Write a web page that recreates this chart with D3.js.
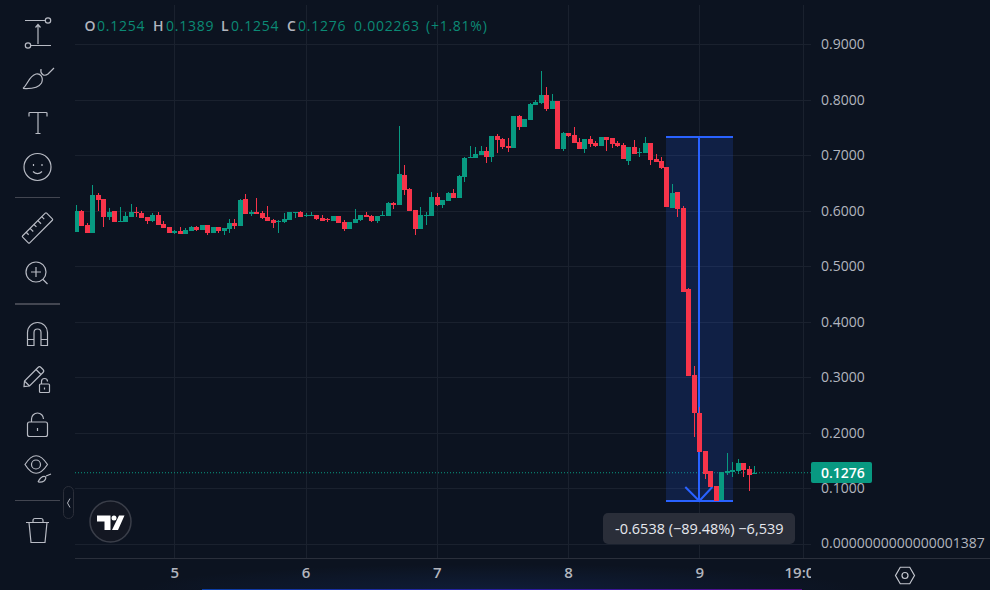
<!DOCTYPE html>
<html>
<head>
<meta charset="utf-8">
<script src="https://cdn.jsdelivr.net/npm/d3@7"></script>
<style>
  html, body { margin: 0; padding: 0; background: #0c1320; overflow: hidden; }
  svg { display: block; }
  text { font-family: "Open Sans", sans-serif; }
  .tool path, .tool circle, .tool line, .tool rect { fill: none; stroke: #b8bbc4; stroke-width: 1.2; }
</style>
</head>
<body>
<svg id="chart" width="990" height="590"></svg>
<script>
// hourly candles
var opens = [.5618,.5996,.5744,.5600,.6285,.6213,.5888,.5996,.5798,.5798,.5888,.5978,.5960,.5888,.5816,.5924,.5762,.5708,.5600,.5636,.5582,.5636,.5708,.5654,.5744,
  .5600,.5708,.5636,.5672,.5780,.5726,.6213,.5942,.5978,.5960,.5888,.5834,.5798,.5798,.5834,.5960,.5978,.5906,.5906,.5924,.5870,.5852,.5816,.5906,.5798,
  .5672,.5780,.5834,.5924,.5906,.5816,.5906,.5906,.6141,.6105,.6646,.6393,.6014,.5672,.5906,.5906,.6249,.6105,.6177,.6321,.6231,.6610,.6952,.6952,.7006,
  .7078,.6970,.7349,.7295,.7169,.7133,.7710,.7512,.7638,.7908,.7944,.8089,.7836,.7980,.7115,.7403,.7367,.7241,.7115,.7295,.7223,.7169,.7331,.7313,.7223,
  .7187,.6898,.7151,.7042,.7042,.7223,.6934,.6898,.6790,.6051,.6339,.6051,.4590,.3039,.2353,.1668,.1307,.1037,.0784,.1271,.1289,.1307,.1452,.1344,.1254];
var highs = [.6105,.6014,.5780,.6465,.6321,.6213,.6051,.5996,.6069,.5978,.6123,.6069,.5996,.5888,.5960,.5978,.5816,.5708,.5654,.5708,.5690,.5726,.5726,.5744,.5744,
  .5708,.5708,.5690,.5852,.5852,.6213,.6303,.6014,.6231,.5996,.6087,.5852,.5834,.5960,.5978,.5978,.5996,.5960,.5978,.5924,.5924,.5870,.5906,.5906,.5834,
  .5798,.6033,.5924,.5978,.5924,.5906,.5996,.6159,.6159,.7529,.6826,.6411,.6014,.6069,.5978,.6339,.6321,.6195,.6339,.6393,.6646,.6970,.7169,.7151,.7169,
  .7151,.7349,.7385,.7313,.7313,.7710,.7728,.7656,.7944,.7998,.8521,.8233,.8107,.7980,.7421,.7403,.7512,.7313,.7295,.7349,.7259,.7331,.7331,.7313,.7259,
  .7223,.7151,.7277,.7133,.7331,.7223,.7024,.6970,.6790,.6483,.6339,.6087,.4608,.3201,.2462,.1668,.1307,.1037,.1289,.1632,.1470,.1524,.1452,.1398,.1389];
var lows = [.5618,.5726,.5600,.5600,.5996,.5708,.5834,.5798,.5798,.5798,.5888,.5888,.5870,.5762,.5798,.5744,.5690,.5600,.5582,.5582,.5582,.5636,.5636,.5654,.5564,
  .5600,.5600,.5564,.5600,.5672,.5726,.5942,.5906,.5942,.5852,.5816,.5690,.5600,.5780,.5834,.5870,.5888,.5888,.5906,.5834,.5816,.5798,.5816,.5780,.5636,
  .5672,.5780,.5816,.5888,.5798,.5780,.5906,.5906,.6033,.6105,.6285,.5996,.5564,.5672,.5744,.5906,.6087,.6051,.6177,.6231,.6231,.6520,.6952,.6952,.7006,
  .6862,.6880,.7042,.7115,.7060,.7133,.7457,.7512,.7638,.7908,.7926,.7800,.7836,.7115,.7078,.7331,.7223,.7115,.7042,.7151,.7151,.7169,.7078,.7133,.7151,
  .6934,.6826,.7024,.6970,.7042,.6826,.6880,.6754,.6069,.6051,.5888,.4536,.3021,.1921,.1650,.1163,.1019,.0766,.0784,.1235,.1199,.1253,.1199,.0947,.1254];
var closes = [.5996,.5726,.5600,.6285,.6195,.5888,.5978,.5798,.5816,.5906,.5978,.5960,.5870,.5816,.5924,.5744,.5690,.5600,.5636,.5582,.5654,.5708,.5654,.5744,.5600,
  .5708,.5636,.5690,.5780,.5726,.6195,.5942,.5978,.5942,.5870,.5816,.5780,.5816,.5852,.5978,.5978,.5888,.5924,.5924,.5852,.5816,.5834,.5906,.5780,.5672,
  .5798,.5852,.5924,.5888,.5816,.5906,.5924,.6141,.6105,.6664,.6375,.5996,.5672,.5924,.5924,.6249,.6105,.6195,.6321,.6231,.6628,.6952,.6970,.7024,.7078,
  .6970,.7349,.7277,.7151,.7133,.7710,.7512,.7656,.7926,.7962,.8089,.7836,.7980,.7115,.7403,.7349,.7223,.7115,.7295,.7205,.7169,.7331,.7277,.7205,.7169,
  .6934,.7151,.7024,.7060,.7223,.6916,.6880,.6772,.6069,.6321,.6033,.4536,.3021,.2353,.1650,.1253,.1019,.0766,.1289,.1307,.1326,.1452,.1326,.1235,.1276];

var priceTicks = [0.9, 0.8, 0.7, 0.6, 0.5, 0.4, 0.3, 0.2, 0.1, 0];
var priceLabels = ['0.9000', '0.8000', '0.7000', '0.6000', '0.5000', '0.4000', '0.3000', '0.2000', '0.1000', '0.0000000000000001387'];
var timeTicks = [18, 42, 66, 90, 114, 133];   // candle index of each label
var timeLabels = ['5', '6', '7', '8', '9', '19:00'];

var lastPrice = 0.1276;
var measureTop = 0.7331, measureBottom = 0.0766;
var measureStart = 107.9, measureMid = 114, measureEnd = 120.1;
var measureText = '-0.6538 (\u221289.48%) \u22126,539';
var legendItems = [['O', '0.1254'], ['H', '0.1389'], ['L', '0.1254'], ['C', '0.1276']];
var legendChange = '0.002263', legendPct = '(+1.81%)';

var green = '#089981', red = '#f7344a', grid = '#1a212e', blue = '#2962ff';

var svg = d3.select('#chart');

// price 0 sits at y=543.5, 0.9 at y=44.4
var y = d3.scaleLinear().domain([0, 0.9]).range([543.5, 44.4]);
var x = d3.scaleLinear().domain([18, 114]).range([174.3, 699.3]);

var defs = svg.append('defs');
defs.append('clipPath').attr('id', 'pane').append('rect')
  .attr('x', 75).attr('y', 0).attr('width', 736).attr('height', 558);
defs.append('clipPath').attr('id', 'timeClip').append('rect')
  .attr('x', 75).attr('y', 558).attr('width', 736).attr('height', 32);
var lg = defs.append('linearGradient').attr('id', 'edge');
lg.append('stop').attr('offset', 0).attr('stop-color', '#0a3fa8');
lg.append('stop').attr('offset', 0.55).attr('stop-color', '#2a1a9c');
lg.append('stop').attr('offset', 1).attr('stop-color', '#5f0c8c');
var glow = defs.append('radialGradient').attr('id', 'glow');
glow.append('stop').attr('offset', 0).attr('stop-color', '#12254a').attr('stop-opacity', 0.55);
glow.append('stop').attr('offset', 1).attr('stop-color', '#12254a').attr('stop-opacity', 0);

// glow + coloured strip along the bottom edge
svg.append('ellipse').attr('cx', 500).attr('cy', 590).attr('rx', 360).attr('ry', 26).attr('fill', 'url(#glow)');
svg.append('rect').attr('x', 202).attr('y', 589).attr('width', 600).attr('height', 1).attr('fill', 'url(#edge)');

// grid, built from the axes
svg.append('g').attr('transform', 'translate(75,0)')
  .call(d3.axisRight(y).tickValues(priceTicks).tickSize(736).tickFormat(''))
  .call(function(g) {
    g.select('.domain').remove();
    g.selectAll('line').attr('stroke', grid).attr('shape-rendering', 'crispEdges');
  });
svg.append('g').attr('transform', 'translate(0,558)')
  .call(d3.axisTop(x).tickValues(timeTicks).tickSize(553).tickFormat(''))
  .call(function(g) {
    g.select('.domain').remove();
    g.selectAll('line').attr('stroke', grid).attr('shape-rendering', 'crispEdges');
  });

// time axis line and labels, the last label is cut off at the price scale
svg.append('line').attr('x1', 75).attr('x2', 990).attr('y1', 558.5).attr('y2', 558.5).attr('stroke', '#2a2f3b');
svg.append('g').attr('clip-path', 'url(#timeClip)')
  .append('g').attr('transform', 'translate(0,558)')
  .call(d3.axisBottom(x).tickValues(timeTicks).tickSize(0).tickPadding(9)
    .tickFormat(function(d, i) { return timeLabels[i]; }))
  .call(function(g) {
    g.select('.domain').remove();
    g.selectAll('text').attr('fill', '#b2b5be').attr('font-size', 15).attr('font-weight', 600)
      .style('font-family', '"Open Sans", sans-serif');
  });

// last price line
svg.append('line').attr('x1', 75).attr('x2', 811).attr('y1', y(lastPrice)).attr('y2', y(lastPrice))
  .attr('stroke', green).attr('stroke-dasharray', '1 2');

// measure tool sits under the candles
var measure = svg.append('g').attr('clip-path', 'url(#pane)').attr('shape-rendering', 'crispEdges');
measure.append('rect')
  .attr('x', x(measureStart)).attr('y', y(measureTop))
  .attr('width', x(measureEnd) - x(measureStart)).attr('height', y(measureBottom) - y(measureTop))
  .attr('fill', blue).attr('fill-opacity', 0.17);
[measureTop, measureBottom].forEach(function(p) {
  measure.append('line').attr('x1', x(measureStart)).attr('x2', x(measureEnd))
    .attr('y1', Math.round(y(p))).attr('y2', Math.round(y(p))).attr('stroke', blue).attr('stroke-width', 2);
});
measure.append('line').attr('x1', Math.round(x(measureMid))).attr('x2', Math.round(x(measureMid)))
  .attr('y1', y(measureTop)).attr('y2', y(measureBottom)).attr('stroke', blue).attr('stroke-width', 2);
measure.append('path')
  .attr('shape-rendering', 'auto')
  .attr('d', 'M' + (x(measureMid) - 14) + ',' + (y(measureBottom) - 14) + 'L' + x(measureMid) + ',' + y(measureBottom) +
    'L' + (x(measureMid) + 13) + ',' + (y(measureBottom) - 14))
  .attr('fill', 'none').attr('stroke', blue).attr('stroke-width', 2);

// candles
var candles = svg.append('g').attr('clip-path', 'url(#pane)')
  .selectAll('g').data(d3.range(opens.length)).enter().append('g')
  .attr('shape-rendering', 'crispEdges')
  .attr('fill', function(i) { return closes[i] >= opens[i] ? green : red; });
candles.append('rect')
  .attr('x', function(i) { return Math.round(x(i)); })
  .attr('width', 1)
  .attr('y', function(i) { return y(highs[i]); })
  .attr('height', function(i) { return y(lows[i]) - y(highs[i]); });
candles.append('rect')
  .attr('x', function(i) { return Math.round(x(i)) - 2; })
  .attr('width', 5)
  .attr('y', function(i) { return y(Math.max(opens[i], closes[i])); })
  .attr('height', function(i) { return Math.max(1, Math.abs(y(opens[i]) - y(closes[i]))); });

// price scale
svg.append('g').attr('transform', 'translate(811,0)')
  .call(d3.axisRight(y).tickValues(priceTicks).tickSize(0).tickPadding(10)
    .tickFormat(function(d, i) { return priceLabels[i]; }))
  .call(function(g) {
    g.select('.domain').remove();
    g.selectAll('text').attr('fill', '#b2b5be').attr('font-size', 14)
      .style('font-family', '"Open Sans", sans-serif');
  });

// last price tag
svg.append('rect').attr('x', 811).attr('y', y(lastPrice) - 10.7).attr('width', 61).attr('height', 21)
  .attr('rx', 2).attr('fill', green);
svg.append('text').attr('x', 821).attr('y', y(lastPrice) + 5).attr('fill', '#fff')
  .attr('font-size', 14).attr('font-weight', 600).text(d3.format('.4f')(lastPrice));

// measure label
svg.append('rect').attr('x', 603).attr('y', 513).attr('width', 192).attr('height', 31).attr('rx', 5).attr('fill', '#2a2e39');
svg.append('text').attr('x', x(measureMid)).attr('y', 533.5).attr('text-anchor', 'middle')
  .attr('fill', '#e6e8ee').attr('font-size', 14.5).text(measureText);

// OHLC legend
var legend = svg.append('text').attr('y', 31).attr('font-size', 14).attr('letter-spacing', 0.75);
var legendX = [[84.5, 97], [153, 166], [221, 231], [287, 298]];
legendItems.forEach(function(d, i) {
  legend.append('tspan').attr('x', legendX[i][0]).attr('fill', '#b2b5be').attr('font-weight', 600).text(d[0]);
  legend.append('tspan').attr('x', legendX[i][1]).attr('fill', '#0b8a75').text(d[1]);
});
legend.append('tspan').attr('x', 354).attr('fill', '#0b8a75').text(legendChange);
legend.append('tspan').attr('x', 426).attr('fill', '#0b8a75').text(legendPct);

// left toolbar
var bar = svg.append('g').attr('class', 'tool');
function icon(d) { return bar.append('path').attr('d', d); }
function ring(cx, cy, r) { return bar.append('circle').attr('cx', cx).attr('cy', cy).attr('r', r); }

// trend line tool
icon('M25,20.5H45M31,45.5H51M38,44V25M35.5,27.5L38,24.5L40.5,27.5');
ring(48, 20.5, 2.7); ring(28, 45.5, 2.7);
// brush
icon('M23,88.5C28,84 29,76 36,74C40,73 44,77 41.5,83C39,87.5 33,89 23,88.5M41,69C40,74 44,77 48,74L54,68');
// text
icon('M29,116.5V113Q29,112.5 30,112.5H46Q47,112.5 47,113V116.5M38,113V133.5M35.5,133.5H40.5');
// smiley
ring(37.5, 167, 13.5);
icon('M33,171.5Q37.5,176 42,171.5M33.5,164V166M42,164V166');
// ruler
bar.append('g').attr('transform', 'translate(37.5,228) rotate(-45)').each(function() {
  var g = d3.select(this);
  g.append('rect').attr('x', -17).attr('y', -5).attr('width', 34).attr('height', 10).attr('rx', 1);
  g.append('path').attr('d', 'M-11,-5V-1.5M-5.5,-5V-0.5M0,-5V-1.5M5.5,-5V-0.5M11,-5V-1.5');
});
// zoom
ring(36, 272, 10);
icon('M36,267V277M31,272H41M43,279.5L47.5,284');
// separators
[[197.5, 1], [304, 2], [500.5, 1]].forEach(function(s) {
  svg.append('line').attr('x1', 15).attr('x2', 60).attr('y1', s[0]).attr('y2', s[0])
    .attr('stroke', '#434651').attr('stroke-width', s[1]);
});
// magnet
icon('M27.5,345.5V332.5A10,10 0 0 1 47.5,332.5V345.5H41V332.5A3.5,3.5 0 0 0 34,332.5V345.5ZM27.5,339.5H34M41,339.5H47.5');
// pencil with lock
icon('M24,386.5L24.5,381L38,367.5Q39.5,366 41,367.5L43,369.5Q44.5,371 43,372.5L29.5,386ZM24.5,381L29.5,386M36,369.5L41,374.5');
bar.append('rect').attr('x', 39.5).attr('y', 384).attr('width', 10).attr('height', 8.5).attr('rx', 1);
icon('M41.5,384V381.5A3,3 0 0 1 47.5,381.5M44.5,387.5V389.5');
// open lock
bar.append('rect').attr('x', 27.5).attr('y', 422).attr('width', 20).attr('height', 14.5).attr('rx', 2);
icon('M31.5,422V419A6,6 0 0 1 43.5,419M37.5,428V431');
// eye with brush
icon('M25,464.5Q36,447 47.5,464.5Q36,482 25,464.5Z');
ring(36, 464.5, 4.5);
icon('M38,482Q41,476 45,476.5Q47,478 44,481Q42,482.5 38,482M46,476L51,474');
// trash
icon('M26,522.5H49M33,522V520.5Q33,518.5 35,518.5H41Q43,518.5 43,520.5V522M29,522.5L31,542.5H45L47,522.5');

// collapse handle
svg.append('rect').attr('x', 63.5).attr('y', 486.5).attr('width', 10).attr('height', 32).attr('rx', 5)
  .attr('fill', 'none').attr('stroke', '#2a2e39');
svg.append('path').attr('d', 'M70,498.5L67.5,503L70,507.5').attr('fill', 'none').attr('stroke', '#b2b5be');

// logo
svg.append('circle').attr('cx', 110.5).attr('cy', 521.5).attr('r', 20.5)
  .attr('fill', '#131722').attr('stroke', '#3a3e49').attr('stroke-width', 1.5);
svg.append('path').attr('fill', '#fff')
  .attr('d', 'M97,515.5H110.5V530H104.5V521.5H97ZM119,515.5H124.5L118,530H112Z');
svg.append('circle').attr('cx', 114).attr('cy', 518).attr('r', 2.5).attr('fill', '#fff');

// settings hexagon
var hex = d3.range(6).map(function(k) {
  var a = k * Math.PI / 3;
  return [905 + 9.5 * Math.cos(a), 575.5 + 9.5 * Math.sin(a)];
});
svg.append('path').attr('d', d3.line()(hex) + 'Z').attr('fill', 'none').attr('stroke', '#c3c6ce').attr('stroke-width', 1.2);
svg.append('circle').attr('cx', 905).attr('cy', 575.5).attr('r', 3).attr('fill', 'none').attr('stroke', '#c3c6ce').attr('stroke-width', 1.2);
</script>
</body>
</html>
